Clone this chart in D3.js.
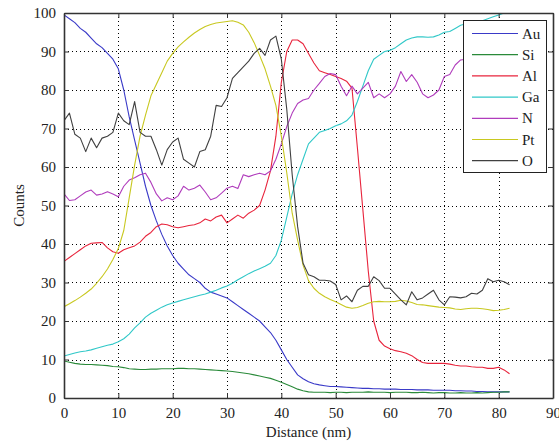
<!DOCTYPE html>
<html><head><meta charset="utf-8">
<script src="https://cdn.jsdelivr.net/npm/d3@7"></script>
<style>body{margin:0;background:#fff}svg{display:block}text{font-family:"Liberation Serif","Times New Roman",serif;fill:#222}</style>
</head><body>
<script>
const xTicks = [0,10,20,30,40,50,60,70,80,90];
const yTicks = [0,10,20,30,40,50,60,70,80,90,100];
const seriesNames = ["Au","Si","Al","Ga","N","Pt","O"];
const seriesColors = ["#3a3ac8","#2a8a3a","#e8243c","#30c8c8","#b03cbc","#c8c820","#404040"];
const distance = d3.range(0,83);
const au = [99.5,98.5,97.5,96,95,93.5,92,91,89.5,88,85.5,80,73,67,61,55,50,46,42.5,39.5,37,35,33.5,32,31,30,28.5,27.5,27,26.5,26,25,24,23,22,21,20,18.5,17,15,12.5,10,8,6,5,4.2,3.7,3.4,3.2,3,3,2.9,2.8,2.7,2.6,2.5,2.5,2.4,2.4,2.3,2.3,2.3,2.2,2.2,2.2,2.1,2.1,2.1,2,2,2,2,1.9,1.9,1.8,1.8,1.7,1.7,1.6,1.6,1.6,1.6,1.6];
const si = [9.6,9.3,9,8.8,8.7,8.7,8.6,8.5,8.4,8.2,8.1,7.9,7.6,7.5,7.4,7.4,7.5,7.5,7.6,7.6,7.6,7.7,7.7,7.6,7.6,7.5,7.4,7.3,7.2,7.1,7,6.9,6.7,6.5,6.3,6,5.7,5.4,5.1,4.6,4.1,3.5,2.9,2.3,1.9,1.6,1.5,1.5,1.5,1.4,1.5,1.5,1.4,1.5,1.5,1.5,1.6,1.5,1.5,1.5,1.4,1.5,1.5,1.5,1.4,1.4,1.5,1.4,1.3,1.4,1.4,1.3,1.3,1.4,1.3,1.3,1.4,1.3,1.4,1.5,1.5,1.6,1.6];
const al = [35.5,36.5,37.5,38.5,39.5,40.2,40.3,40.4,39,38,37.6,38.5,39,39.5,40.5,42,43,44.5,45.2,45,44.5,44.2,44.5,44.8,45,45.5,46.5,46,47,47.5,45.5,46.5,47.5,46.7,48,48.8,50,54,59,68,82,90,93,93,92,89.5,87,85,84.5,84,83.5,83,82.3,80.5,65,49,33,20,15,13.5,12.8,12.3,12,11.6,11,10,9.2,9,9,9,9,8.8,8.5,8.3,8.3,8.1,8,8,7.7,7.7,8,7.3,6.3];
const ga = [10.9,11.3,11.7,12,12.2,12.5,12.9,13.3,13.7,14,14.6,15.4,16.6,18.2,19.5,21,22,22.8,23.6,24.2,24.7,25.1,25.5,25.9,26.3,26.7,27,27.5,28,28.6,29.1,29.8,30.7,31.5,32.3,33,33.6,34.2,35,37,41,47,53,58,62,66,67.5,69,69.5,70,70.7,71.2,72,73.5,77,81,85,88,89,90,90.3,91,92,93,93.5,93.8,93.8,93.7,93.8,94.3,95,95.2,96,96.8,97.2,97.5,98,98,98.5,99,99.5,100,102];
const n = [53,51.3,51.5,52.5,53.5,54,52.7,53,53.6,53,52.3,55,56.6,57.2,58,58.4,56,53,51.2,52,51.5,52.5,55,54,54.5,55.3,53.5,51.5,52,53.2,54.5,55,54.4,58,57.5,58,58.4,58,59,62,66,70.5,74,76.5,77.4,77.8,80,81.7,83.5,84.3,84,81,78.5,81,79,80.5,82,78,79,78,79,81,84.8,82.2,84,82,79,78,78.7,80,83.5,84,86.5,87.8,88,88.5,88.5,89,89,89.5,89.5,90,90];
const pt = [23.7,24.5,25.3,26.2,27.2,28.3,29.8,31.5,33.5,36,38.8,43.5,52,60.5,68,73.5,78.5,81.5,84.5,87.5,89.5,91.2,92.5,93.7,94.8,95.7,96.5,97,97.4,97.6,97.8,98,97.6,96.9,95,92.3,89,85.5,81,76,68,58.5,48,41,34.5,30.5,28.5,27.2,26.3,25.6,25,24.3,23.6,23.3,23.5,24,24.6,25,25.1,25,25,25.1,25.4,25.2,24.8,24.3,24.2,24,23.8,23.6,23.5,23.4,23.1,23,23.2,23.3,23.3,23.2,23,22.7,22.8,23,23.3];
const o = [72,74,68.5,67.5,64,67.5,65,67.5,68,69,74,72,71,77,69,68,68,64.5,60.5,64.5,66.5,67.5,62,61,60,64,64.5,68,76,75.7,78,83,84.5,86,87.5,89.5,90.8,89,93,94,88,75,58,44.5,35,32,31.5,30.6,30.6,30.4,29.5,25.5,26.5,25,28,29,29,31.5,30.5,28.5,28.5,27,25.5,24.2,27.6,25.5,26,27,28,25.5,24.2,26.3,26.2,26,26.3,27.2,27,28,31,30.2,30.6,30.2,29.4];
const seriesValues = [au,si,al,ga,n,pt,o];

const W=559,H=442, L=64,R=553,T=13,B=398;
const svg=d3.select("body").append("svg").attr("width",W).attr("height",H);
const x=d3.scaleLinear().domain([0,90]).range([L,R]);
const y=d3.scaleLinear().domain([0,100]).range([B,T]);

// grid
const g=svg.append("g");
g.selectAll(".gx").data(xTicks.filter(t=>t>0&&t<90)).enter().append("line")
 .attr("x1",d=>Math.round(x(d))+0.5).attr("x2",d=>Math.round(x(d))+0.5).attr("y1",T).attr("y2",B)
 .attr("stroke","#000").attr("stroke-width",1).attr("stroke-dasharray","1,3");
g.selectAll(".gy").data(yTicks.filter(t=>t>0&&t<100)).enter().append("line")
 .attr("y1",d=>Math.round(y(d))+0.5).attr("y2",d=>Math.round(y(d))+0.5).attr("x1",L).attr("x2",R)
 .attr("stroke","#000").attr("stroke-width",1).attr("stroke-dasharray","1,3");

svg.append("defs").append("clipPath").attr("id","clip").append("rect")
 .attr("x",L).attr("y",T).attr("width",R-L).attr("height",B-T);

const line=d3.line().x((d,i)=>x(distance[i])).y(d=>y(d));
const lines=svg.append("g").attr("clip-path","url(#clip)");
seriesValues.forEach((vals,k)=>{
  lines.append("path").datum(vals).attr("d",line).attr("fill","none")
   .attr("stroke",seriesColors[k]).attr("stroke-width",1.1).attr("stroke-linejoin","round");
});

// axes (MATLAB style box with inward ticks)
const axB=svg.append("g").attr("transform",`translate(0,${B})`).call(d3.axisBottom(x).tickValues(xTicks).tickSizeInner(-5).tickSizeOuter(0).tickPadding(9));
const axT=svg.append("g").attr("transform",`translate(0,${T})`).call(d3.axisTop(x).tickValues(xTicks).tickSizeInner(-5).tickSizeOuter(0).tickFormat(""));
const axL=svg.append("g").attr("transform",`translate(${L},0)`).call(d3.axisLeft(y).tickValues(yTicks).tickSizeInner(-5).tickSizeOuter(0).tickPadding(8));
const axR=svg.append("g").attr("transform",`translate(${R},0)`).call(d3.axisRight(y).tickValues(yTicks).tickSizeInner(-5).tickSizeOuter(0).tickFormat(""));
[axB,axT,axL,axR].forEach(a=>{
  a.select(".domain").attr("stroke","#333").attr("stroke-width",1.6);
  a.selectAll(".tick line").attr("stroke","#333");
  a.selectAll("text").style("font-family",'"Liberation Serif",serif').style("font-size","15px").attr("fill","#222");
});

svg.append("text").attr("x",(L+R)/2).attr("y",437).attr("text-anchor","middle").style("font-size","15px").text("Distance (nm)");
svg.append("text").attr("transform",`translate(24,${(T+B)/2}) rotate(-90)`).attr("text-anchor","middle").style("font-size","15px").text("Counts");

// legend
const lg=svg.append("g");
lg.append("rect").attr("x",463.5).attr("y",20.5).attr("width",83).attr("height",152).attr("fill","#fff").attr("stroke","#222").attr("stroke-width",1);
seriesNames.forEach((nm,k)=>{
  const yy=33.5+k*21.2;
  lg.append("line").attr("x1",472).attr("x2",518).attr("y1",yy).attr("y2",yy).attr("stroke",seriesColors[k]).attr("stroke-width",1.2);
  lg.append("text").attr("x",522).attr("y",yy+5).style("font-size","15px").text(nm);
});
</script>
</body></html>
